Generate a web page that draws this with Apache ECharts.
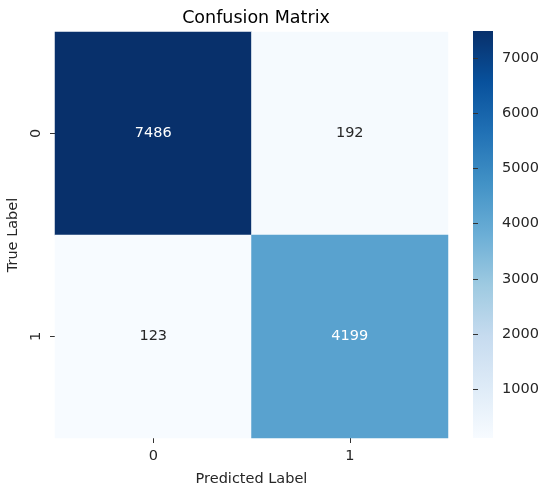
<!DOCTYPE html>
<html>
<head>
<meta charset="utf-8">
<style>
  html, body { margin: 0; padding: 0; background: #fff; }
  #chart { width: 550px; height: 492px; }
</style>
<script src="https://cdn.jsdelivr.net/npm/echarts@6/dist/echarts.min.js"></script>
</head>
<body>
<div id="chart"></div>
<script>
    // confusion matrix values
    var predLabels = ['0', '1'];
    var trueLabels = ['0', '1'];
    var row0 = [7486, 192];
    var row1 = [123, 4199];
    var colorbarTicks = [1000, 2000, 3000, 4000, 5000, 6000, 7000];

    // matplotlib "Blues"
    var blues = ['#f7fbff', '#deebf7', '#c6dbef', '#9ecae1', '#6baed6', '#4292c6', '#2171b5', '#08519c', '#08306b'];

    var rows = [row0, row1];
    var cells = [];
    var vmin = Infinity, vmax = -Infinity;
    rows.forEach(function (r) {
        r.forEach(function (v) {
            vmin = Math.min(vmin, v);
            vmax = Math.max(vmax, v);
        });
    });
    rows.forEach(function (r, y) {
        r.forEach(function (v, x) {
            var dark = (v - vmin) / (vmax - vmin) > 0.5;
            cells.push({
                value: [x, y, v],
                label: {color: dark ? '#ffffff' : '#262626'}
            });
        });
    });

    var font = 'DejaVu Sans';
    var fs = 14.5;

    // colorbar box (matches grid 1)
    var cb = {left: 473, top: 31, width: 20, height: 407};

    var chart = echarts.init(document.getElementById('chart'));

    var option = {
        backgroundColor: '#fff',
        textStyle: {fontFamily: font},
        title: {
            text: 'Confusion Matrix',
            left: 251,
            textAlign: 'center',
            top: 4,
            textStyle: {fontFamily: font, fontSize: 17.5, fontWeight: 'normal', color: '#000'}
        },
        grid: [
            {left: 55, right: 102, top: 32, bottom: 54, outerBoundsMode: 'none', containLabel: false},
            {left: cb.left, width: cb.width, top: cb.top, height: cb.height, outerBoundsMode: 'none', containLabel: false}
        ],
        graphic: [{
            type: 'rect',
            left: cb.left,
            top: cb.top,
            silent: true,
            z: -1,
            shape: {width: cb.width, height: cb.height},
            style: {
                fill: new echarts.graphic.LinearGradient(0, 1, 0, 0, blues.map(function (c, i) {
                    return {offset: i / (blues.length - 1), color: c};
                }))
            }
        }],
        xAxis: [{
            type: 'category',
            data: predLabels,
            gridIndex: 0,
            position: 'bottom',
            name: 'Predicted Label',
            nameLocation: 'middle',
            nameGap: 34,
            nameTextStyle: {fontFamily: font, fontSize: fs, color: '#262626'},
            axisLine: {show: false},
            axisTick: {show: true, alignWithLabel: true, length: 5, lineStyle: {color: '#333'}},
            axisLabel: {fontFamily: font, fontSize: fs, color: '#262626', margin: 11},
            splitLine: {show: false}
        }, {
            type: 'value',
            gridIndex: 1,
            show: false,
            min: 0,
            max: 1
        }],
        yAxis: [{
            type: 'category',
            data: trueLabels,
            gridIndex: 0,
            inverse: true,
            name: 'True Label',
            nameLocation: 'middle',
            nameGap: 32,
            nameTextStyle: {fontFamily: font, fontSize: fs, color: '#262626'},
            axisLine: {show: false},
            axisTick: {show: true, alignWithLabel: true, length: 5, lineStyle: {color: '#333'}},
            axisLabel: {fontFamily: font, fontSize: fs, color: '#262626', rotate: 90, margin: 11},
            splitLine: {show: false}
        }, {
            type: 'value',
            gridIndex: 1,
            position: 'right',
            offset: 0,
            min: vmin,
            max: vmax,
            axisLine: {show: false},
            splitLine: {show: false},
            axisTick: {show: true, inside: false, length: 5, customValues: colorbarTicks, lineStyle: {color: '#333'}},
            axisLabel: {
                fontFamily: font, fontSize: fs, color: '#262626', margin: 9, inside: false,
                customValues: colorbarTicks,
                formatter: function (v) { return String(v); }
            }
        }],
        visualMap: {
            type: 'continuous',
            show: false,
            min: vmin,
            max: vmax,
            seriesIndex: 0,
            inRange: {color: blues}
        },
        series: [{
            type: 'heatmap',
            xAxisIndex: 0,
            yAxisIndex: 0,
            data: cells,
            label: {
                show: true,
                fontFamily: font,
                fontSize: fs,
                formatter: function (p) { return p.value[2]; }
            },
            itemStyle: {borderWidth: 0}
        }]
    };

    chart.setOption(option);
</script>
</body>
</html>
